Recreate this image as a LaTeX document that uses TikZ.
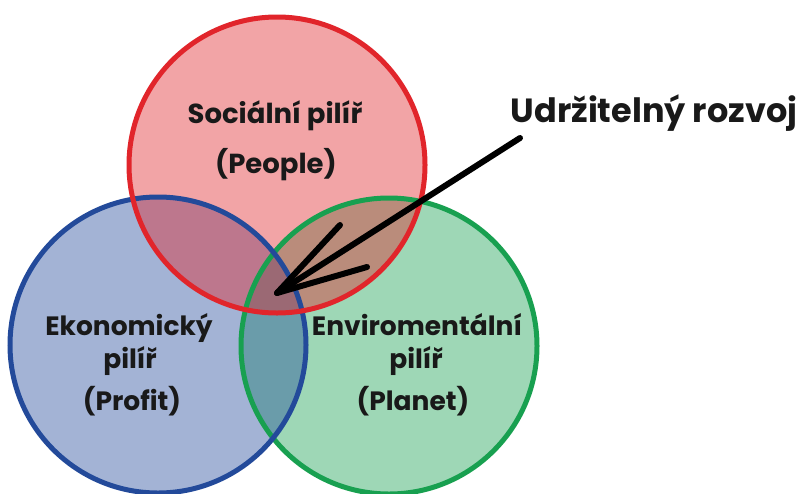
\documentclass[tikz,border=0pt]{standalone}
\usepackage{fontspec}
\setmainfont{Poppins}
\usepackage{tikz}
\usetikzlibrary{positioning}
\definecolor{socred}{RGB}{225,37,43}
\definecolor{ekoblue}{RGB}{35,74,154}
\definecolor{envgreen}{RGB}{24,160,80}
\tikzset{pillar/.style={circle,minimum size=296pt,inner sep=0pt,fill opacity=0.42},
  rim/.style={circle,minimum size=296pt,inner sep=0pt,draw,line width=5pt},
  lbl/.style={anchor=base,font=\bfseries\fontsize{26.5}{32}\selectfont,text=black!90},
  arr/.style={line width=6pt,line cap=round,line join=round}}

\begin{document}
\begin{tikzpicture}[x=1pt,y=-1pt]
    \useasboundingbox (0,0) rectangle (805,493);
    % fills
    \node[pillar,fill=envgreen] (env) at (389,346) {};
    \node[pillar,fill=ekoblue] (eko) at (158,345) {};
    \node[pillar,fill=socred] (soc) at (277,165) {};
    % outlines
    \node[rim,envgreen] (envrim) at (env) {};
    \node[rim,ekoblue] (ekorim) at (eko) {};
    \node[rim,socred] (socrim) at (soc) {};

    \node[lbl,font=\bfseries\fontsize{27.5}{32}\selectfont] (soct) at (275,123) {Sociální pilíř};
    \node[lbl,font=\bfseries\fontsize{27.5}{32}\selectfont] (socp) at (276,173) {(People)};
    \node[lbl] (ekot) at (129,335) {Ekonomický};
    \node[lbl] (ekop) at (130,368) {pilíř};
    \node[lbl] (ekos) at (132,410) {(Profit)};
    \node[lbl] (envt) at (417,335) {Enviromentální};
    \node[lbl] (envp) at (416,368) {pilíř};
    \node[lbl] (envs) at (413,410) {(Planet)};

    \node[lbl,font=\bfseries\fontsize{33.5}{40}\selectfont] (goal) at (654,122) {Udržitelný rozvoj};
    \coordinate (tail) at (520,138);
    \coordinate (tip) at (277,293);
    \draw[arr] (tail) -- (tip);
    \draw[arr] (340,225) -- (tip) -- (367,267);
\end{tikzpicture}
\end{document}
